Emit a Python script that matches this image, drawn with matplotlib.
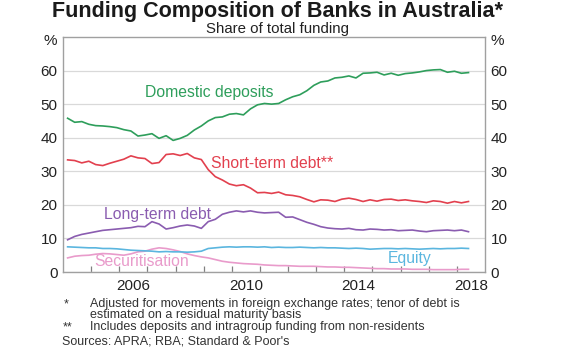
import numpy as np
import pandas as pd
import matplotlib.pyplot as plt
from matplotlib.ticker import FixedLocator, NullFormatter
import matplotlib.transforms as mtransforms

plt.rcParams['font.family'] = ['Liberation Sans', 'DejaVu Sans']

# quarterly observations, Mar 2004 - Jun 2018
dates = pd.date_range('2004-03-01', periods=58, freq='3MS')
t = (dates.year + (dates.dayofyear - 1) / 365.25).values

domestic_deposits = [
    45.8, 44.6, 44.8, 44.0, 43.6, 43.5, 43.3, 43.0, 42.4, 42.0,
    40.5, 40.8, 41.2, 39.8, 40.6, 39.2, 39.8, 40.7, 42.3, 43.5,
    45.0, 46.0, 46.2, 47.0, 47.2, 46.8, 48.6, 49.8, 50.2, 50.0,
    50.2, 51.3, 52.2, 52.8, 54.0, 55.6, 56.6, 56.9, 57.8, 58.0,
    58.4, 57.8, 59.2, 59.3, 59.5, 58.7, 59.2, 58.6, 59.1, 59.3,
    59.6, 60.0, 60.2, 60.3, 59.5, 59.8, 59.2, 59.4]
short_term_debt = [
    33.4, 33.2, 32.5, 33.0, 32.0, 31.7, 32.4, 33.0, 33.6, 34.6,
    34.0, 33.8, 32.3, 32.6, 35.0, 35.2, 34.7, 35.3, 34.0, 33.5,
    30.5, 28.4, 27.4, 26.2, 25.7, 26.0, 25.0, 23.6, 23.7, 23.4,
    23.8, 23.0, 22.8, 22.4, 21.6, 20.9, 21.5, 21.4, 21.0, 21.7,
    22.0, 21.6, 21.0, 21.5, 21.1, 21.6, 21.7, 21.3, 21.5, 21.2,
    21.0, 20.7, 21.2, 21.0, 20.5, 21.0, 20.6, 21.0]
long_term_debt = [
    9.6, 10.6, 11.2, 11.6, 12.0, 12.4, 12.6, 12.8, 13.0, 13.2,
    13.6, 13.5, 15.0, 14.3, 12.8, 13.2, 13.7, 14.0, 13.7, 13.0,
    15.0, 15.7, 17.2, 17.8, 18.2, 17.9, 18.2, 17.8, 17.6, 17.7,
    17.8, 16.3, 16.4, 15.6, 14.8, 14.2, 13.5, 13.1, 12.9, 12.8,
    13.0, 12.6, 12.5, 12.8, 12.7, 12.5, 12.6, 12.3, 12.4, 12.5,
    12.2, 12.0, 12.3, 12.4, 12.5, 12.3, 12.5, 12.0]
equity = [
    7.5, 7.4, 7.3, 7.2, 7.2, 7.0, 7.0, 6.9, 6.7, 6.5,
    6.4, 6.3, 6.2, 6.0, 6.1, 6.0, 6.0, 5.9, 6.0, 6.2,
    7.0, 7.2, 7.4, 7.5, 7.4, 7.5, 7.5, 7.4, 7.5, 7.3,
    7.4, 7.3, 7.3, 7.4, 7.3, 7.2, 7.3, 7.2, 7.2, 7.1,
    7.0, 7.1, 7.0, 6.8, 6.9, 7.0, 7.0, 6.9, 7.0, 6.9,
    6.8, 6.9, 7.0, 6.9, 7.0, 7.0, 7.1, 7.0]
securitisation = [
    4.2, 4.7, 4.9, 5.0, 5.3, 5.5, 5.4, 5.2, 5.0, 5.4,
    6.0, 6.2, 6.8, 7.2, 7.0, 6.6, 6.1, 5.4, 4.9, 4.5,
    4.2, 3.7, 3.2, 2.9, 2.7, 2.5, 2.4, 2.3, 2.1, 2.0,
    1.9, 1.9, 1.8, 1.7, 1.7, 1.7, 1.6, 1.5, 1.5, 1.4,
    1.4, 1.3, 1.2, 1.1, 1.0, 1.0, 0.9, 0.9, 0.9, 0.8,
    0.8, 0.8, 0.7, 0.7, 0.7, 0.7, 0.8, 0.8]

year_labels = ['2006', '2010', '2014', '2018']
year_label_pos = [2006.5, 2010.5, 2014.5, 2018.5]

green = '#2e9e5b'
red = '#e2404e'
purple = '#8a5cb0'
blue = '#5bb6df'
pink = '#e99bcb'

fig = plt.figure(figsize=(5.8, 3.52), dpi=100)
ax = fig.add_axes([63 / 580, 1 - 272 / 352, 422 / 580, 235 / 352])

ax.plot(t, securitisation, color=pink, lw=1.2)
ax.plot(t, equity, color=blue, lw=1.2)
ax.plot(t, long_term_debt, color=purple, lw=1.2)
ax.plot(t, short_term_debt, color=red, lw=1.2)
ax.plot(t, domestic_deposits, color=green, lw=1.2)

ax.set_xlim(2004, 2019)
ax.set_ylim(0, 70)

# grid and frame
ax.set_yticks(range(0, 70, 10))
ax.yaxis.grid(True, color='#d9d9d9', lw=0.9)
ax.set_axisbelow(True)
for s in ax.spines.values():
    s.set_color('#a0a0a0')
    s.set_linewidth(1.0)
ax.tick_params(axis='y', length=0, labelsize=11, labelright=True, pad=4,
               labelcolor='#222222')

ax.xaxis.set_major_locator(FixedLocator(year_label_pos))
ax.set_xticklabels(year_labels)
ax.xaxis.set_minor_locator(FixedLocator(range(2005, 2019)))
ax.xaxis.set_minor_formatter(NullFormatter())
ax.tick_params(axis='x', which='major', length=0, labelsize=11, pad=5,
               labelcolor='#222222')
ax.tick_params(axis='x', which='minor', direction='in', length=4,
               color='#808080', width=0.9)

# % units
off_l = mtransforms.offset_copy(ax.transAxes, fig=fig, x=-4, y=0, units='points')
off_r = mtransforms.offset_copy(ax.transAxes, fig=fig, x=4, y=0, units='points')
ax.text(0, 68.7 / 70, '%', transform=off_l, ha='right', va='center',
        fontsize=11, color='#222222')
ax.text(1, 68.7 / 70, '%', transform=off_r, ha='left', va='center',
        fontsize=11, color='#222222')

# series labels
ax.text(2006.9, 53.5, 'Domestic deposits', color=green, fontsize=11.3, va='center')
ax.text(2009.25, 32.3, 'Short-term debt**', color=red, fontsize=11.3, va='center')
ax.text(2005.45, 17.0, 'Long-term debt', color=purple, fontsize=11.3, va='center')
ax.text(2005.1, 3.2, 'Securitisation', color=pink, fontsize=11.3, va='center')
ax.text(2015.55, 4.1, 'Equity', color=blue, fontsize=11.3, va='center')

# titles
fig.text(278 / 580, 1 - 11 / 352, 'Funding Composition of Banks in Australia*',
         ha='center', va='center', fontsize=15.5, fontweight='bold', color='#1a1a1a')
fig.text(277 / 580, 1 - 29.5 / 352, 'Share of total funding',
         ha='center', va='center', fontsize=10.8, color='#222222')

# footnotes
fs = 9
fig.text(64 / 580, 1 - 304 / 352, '*', fontsize=fs, va='center', color='#333333')
fig.text(90 / 580, 1 - 304 / 352,
         'Adjusted for movements in foreign exchange rates; tenor of debt is',
         fontsize=fs, va='center', color='#333333')
fig.text(90 / 580, 1 - 315 / 352, 'estimated on a residual maturity basis',
         fontsize=fs, va='center', color='#333333')
fig.text(63 / 580, 1 - 327 / 352, '**', fontsize=fs, va='center', color='#333333')
fig.text(90 / 580, 1 - 327 / 352,
         'Includes deposits and intragroup funding from non-residents',
         fontsize=fs, va='center', color='#333333')
fig.text(62 / 580, 1 - 342 / 352, "Sources: APRA; RBA; Standard & Poor's",
         fontsize=fs, va='center', color='#333333')

fig.savefig('out.png', dpi=100)
